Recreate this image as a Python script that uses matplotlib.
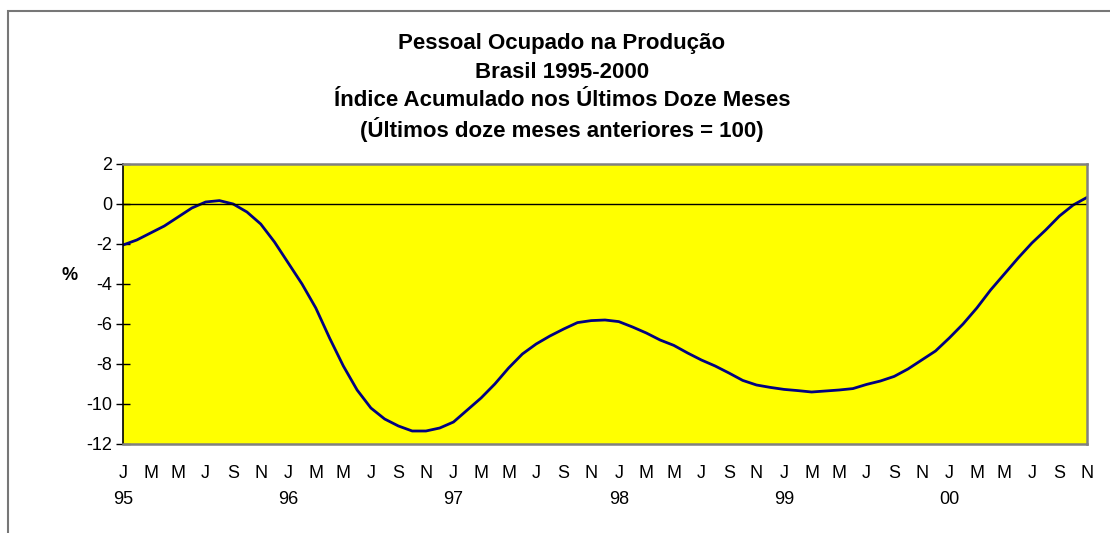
import matplotlib
matplotlib.use('Agg')
import matplotlib.pyplot as plt
from matplotlib.patches import Rectangle

plt.rcParams['font.family'] = ['Liberation Sans', 'DejaVu Sans']
plt.rcParams['axes.unicode_minus'] = False

# indice acumulado 12 meses, jan/95 .. nov/00 (mensal)
valores = [-2.05, -1.8, -1.45, -1.1, -0.65, -0.2, 0.1, 0.17, 0.0, -0.4,
           -1.0, -1.9, -2.95, -4.0, -5.2, -6.7, -8.1, -9.3, -10.2, -10.75,
           -11.1, -11.35, -11.35, -11.2, -10.9, -10.3, -9.7, -9.0, -8.2, -7.5,
           -7.0, -6.6, -6.25, -5.93, -5.83, -5.8, -5.88, -6.15, -6.45, -6.8,
           -7.07, -7.45, -7.8, -8.1, -8.45, -8.82, -9.05, -9.17, -9.27, -9.33,
           -9.4, -9.35, -9.3, -9.23, -9.02, -8.85, -8.62, -8.25, -7.8, -7.35,
           -6.7, -6.0, -5.2, -4.3, -3.5, -2.7, -1.95, -1.3, -0.6, -0.05,
           0.33]
meses = ['J', 'M', 'M', 'J', 'S', 'N'] * 6
anos = ['95', '96', '97', '98', '99', '00']
y_ticks = [-12, -10, -8, -6, -4, -2, 0, 2]

W, H = 1110, 533
fig = plt.figure(figsize=(W / 100, H / 100), dpi=100)
ax = fig.add_axes([123 / W, (H - 444) / H, (1087 - 123) / W, (444 - 164) / H])

ax.set_facecolor('#FFFF00')
ax.plot(range(len(valores)), valores, color='#000080', lw=2)
ax.axhline(0, color='black', lw=1)

ax.set_xlim(0, len(valores) - 1)
ax.set_ylim(-12, 2)
ax.set_yticks(y_ticks)
ax.tick_params(axis='y', direction='inout', length=10, width=1, pad=3, labelsize=13)
ax.set_xticks(range(0, len(valores), 2))
ax.set_xticklabels(meses)
ax.tick_params(axis='x', length=0, pad=15, labelsize=13)

for i, a in enumerate(anos):
    ax.text(i * 12, -0.2, a, transform=ax.get_xaxis_transform(),
            ha='center', va='center', fontsize=13)

for s in ['top', 'right', 'bottom']:
    ax.spines[s].set_color('#808080')
    ax.spines[s].set_linewidth(1.8)
ax.spines['left'].set_color('black')
ax.spines['left'].set_linewidth(1.2)

fig.text(70 / W, 1 - 276 / H, '%', ha='center', va='center', fontsize=13, fontweight='bold')

titulo = ['Pessoal Ocupado na Produção', 'Brasil 1995-2000',
          'Índice Acumulado nos Últimos Doze Meses',
          '(Últimos doze meses anteriores = 100)']
for k, t in enumerate(titulo):
    fig.text(562 / W, 1 - (44 + 28.5 * k) / H, t, ha='center', va='center',
             fontsize=16, fontweight='bold')

fig.add_artist(Rectangle((8 / W, -0.1), 1.2, 0.1 + (H - 11) / H,
                         transform=fig.transFigure, fill=False,
                         edgecolor='#777777', lw=1.5))

fig.savefig('out.png', dpi=100)
